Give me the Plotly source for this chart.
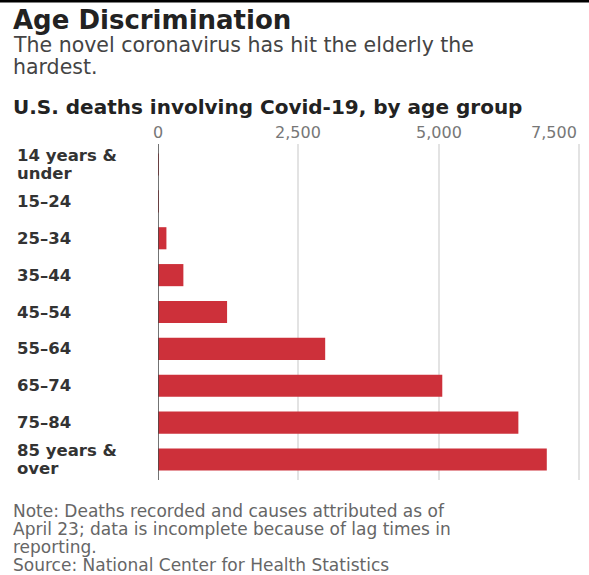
import plotly.graph_objects as go

# Deaths involving Covid-19 by age group (NCHS provisional counts)
age_groups = ["14 years &<br>under", "15–24", "25–34", "35–44", "45–54",
              "55–64", "65–74", "75–84", "85 years &<br>over"]
deaths = [3, 15, 150, 452, 1230, 2977, 5062, 6417, 6923]
tick_vals = [0, 2500, 5000, 7500]
tick_text = ["0", "2,500", "5,000", "7,500"]

title = "Age Discrimination"
subtitle_lines = ["The novel coronavirus has hit the elderly the", "hardest."]
chart_label = "U.S. deaths involving Covid-19, by age group"
note_lines = ["Note: Deaths recorded and causes attributed as of",
              "April 23; data is incomplete because of lag times in",
              "reporting.",
              "Source: National Center for Health Statistics"]

W, H = 589, 575
L, R, T, B = 158, 7, 144, 95
FONT = "DejaVu Sans"
BAR = "#cd303a"


def px(x):
    return (x - L) / (W - L - R)


def py(y):
    return 1 - (y - T) / (H - T - B)


fig = go.Figure(go.Bar(
    x=deaths, y=age_groups, orientation="h",
    marker=dict(color=BAR, line=dict(width=0)),
    width=0.6, hoverinfo="x+y",
))

annotations = []


def text_line(s, x, y, size, color, bold=False):
    annotations.append(dict(
        text=f"<b>{s}</b>" if bold else s,
        xref="paper", yref="paper", x=px(x), y=py(y),
        xanchor="left", yanchor="middle", showarrow=False,
        font=dict(family=FONT, size=size, color=color),
    ))


text_line(title, 11, 20, 26, "#222222", bold=True)
for i, s in enumerate(subtitle_lines):
    text_line(s, 11, 45 + 22 * i, 20.5, "#444444")
text_line(chart_label, 11, 107, 20, "#222222", bold=True)
for i, s in enumerate(note_lines):
    text_line(s, 11, 511 + 18 * i, 17, "#666666")

# category labels, left aligned at the chart edge
for cat in age_groups:
    parts = cat.split("<br>")
    n = len(parts)
    for j, part in enumerate(parts):
        annotations.append(dict(
            text=f"<b>{part}</b>", xref="paper", yref="y",
            x=px(15), y=cat, xanchor="left", yanchor="middle",
            yshift=(n - 1) * 9 - 18 * j, showarrow=False,
            font=dict(family=FONT, size=16.5, color="#333333"),
        ))

# value-axis labels above the plot; the last one sits flush with its gridline
for k, (v, lab) in enumerate(zip(tick_vals, tick_text)):
    last = k == len(tick_vals) - 1
    annotations.append(dict(
        text=lab, xref="x", yref="paper", x=v, y=py(133),
        xanchor="right" if last else "center", yanchor="middle",
        showarrow=False,
        font=dict(family=FONT, size=16, color="#777777"),
    ))

fig.update_layout(
    width=W, height=H,
    margin=dict(l=L, r=R, t=T, b=B, autoexpand=False),
    paper_bgcolor="white", plot_bgcolor="white",
    showlegend=False,
    bargap=0.4,
    annotations=annotations,
    xaxis=dict(
        side="top", range=[0, 7550],
        tickvals=tick_vals, showticklabels=False, automargin=False,
        showgrid=True, gridcolor="#e3e3e3", gridwidth=1.5,
        zeroline=False, showline=False, ticks="",
        fixedrange=True,
    ),
    yaxis=dict(
        autorange="reversed", showticklabels=False, ticks="",
        showgrid=False, zeroline=False, fixedrange=True, automargin=False,
    ),
    shapes=[
        dict(type="line", xref="x", yref="paper", x0=0, x1=0, y0=0, y1=1,
             line=dict(color="#444444", width=1.5)),
        dict(type="line", xref="paper", yref="paper", x0=px(0), x1=px(W),
             y0=py(1), y1=py(1), line=dict(color="#000000", width=3)),
    ],
)

fig.write_html("out.html")
